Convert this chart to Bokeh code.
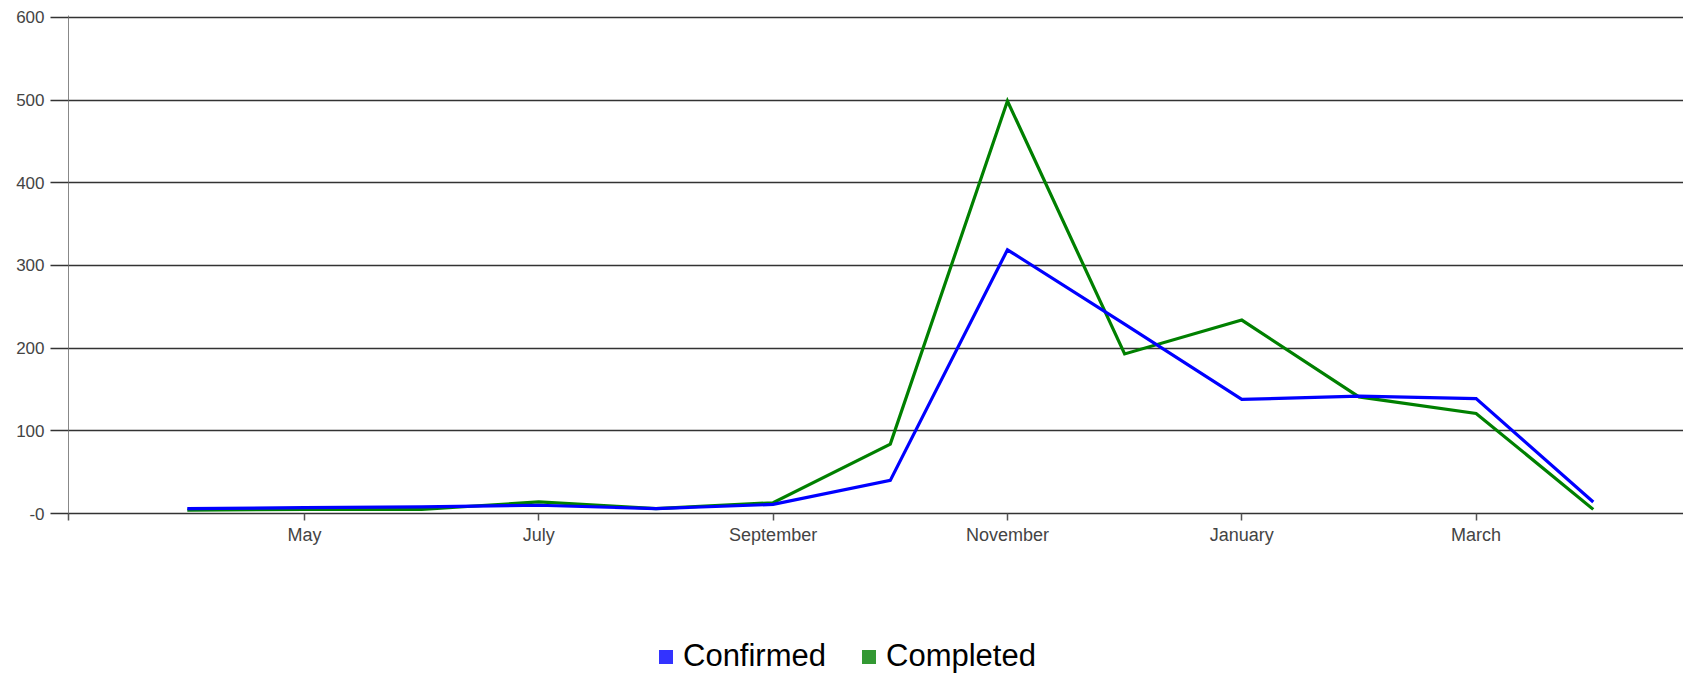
from bokeh.plotting import figure
from bokeh.layouts import column
from bokeh.models import Range1d, FixedTicker, Legend, LegendItem, ColumnDataSource
from bokeh.embed import file_html
from bokeh.resources import INLINE

# ---- data ----
months = ["April", "May", "June", "July", "August", "September", "October",
          "November", "December", "January", "February", "March", "April"]
confirmed = [6, 7, 8, 10, 6, 11, 40, 319, 229, 138, 142, 139, 14]
completed = [4, 5, 5, 14, 6, 13, 84, 499, 193, 234, 141, 121, 5]
x_tick_pos = [1, 3, 5, 7, 9, 11]
x_tick_labels = ["May", "July", "September", "November", "January", "March"]
y_ticks = [0, 100, 200, 300, 400, 500, 600]
y_tick_labels = ["-0", "100", "200", "300", "400", "500", "600"]
series_names = ["Confirmed", "Completed"]

xs = list(range(len(months)))
FONT = "Liberation Sans"
X_START, X_END = -1.014, 12.77

p = figure(width=1683, height=568, output_backend="svg", toolbar_location=None,
           x_range=Range1d(X_START, X_END), y_range=Range1d(0, 602.4),
           min_border_left=68, min_border_right=0, min_border_top=15,
           min_border_bottom=55)
p.outline_line_color = None
p.background_fill_color = "white"
p.border_fill_color = "white"

# grid
p.xgrid.grid_line_color = None
p.ygrid.grid_line_color = "#333333"
p.ygrid.grid_line_width = 1.5
p.ygrid.ticker = FixedTicker(ticks=y_ticks)

# y axis
p.yaxis.ticker = FixedTicker(ticks=y_ticks)
p.yaxis.major_label_overrides = {t: l for t, l in zip(y_ticks, y_tick_labels)}
p.yaxis.axis_line_color = "#888888"
p.yaxis.axis_line_width = 1
p.yaxis.major_tick_out = 18
p.yaxis.major_tick_in = 0
p.yaxis.major_tick_line_color = "#333333"
p.yaxis.major_tick_line_width = 1.5
p.yaxis.minor_tick_line_color = None
p.yaxis.major_label_standoff = 6
p.yaxis.major_label_text_font = FONT
p.yaxis.major_label_text_font_size = "17px"
p.yaxis.major_label_text_color = "#444444"

# x axis (extra unlabeled tick at the left edge continues the y axis line)
p.xaxis.ticker = FixedTicker(ticks=[X_START] + x_tick_pos)
overrides = {t: l for t, l in zip(x_tick_pos, x_tick_labels)}
overrides[X_START] = ""
p.xaxis.major_label_overrides = overrides
p.xaxis.axis_line_color = "#333333"
p.xaxis.axis_line_width = 1.5
p.xaxis.major_tick_out = 7
p.xaxis.major_tick_in = 0
p.xaxis.major_tick_line_color = "#555555"
p.xaxis.major_tick_line_width = 1.5
p.xaxis.minor_tick_line_color = None
p.xaxis.major_label_standoff = 4
p.xaxis.major_label_text_font = FONT
p.xaxis.major_label_text_font_size = "18px"
p.xaxis.major_label_text_color = "#444444"

src = ColumnDataSource(dict(x=xs, confirmed=confirmed, completed=completed))
p.line("x", "completed", source=src, line_color="#008000", line_width=3.2, line_join="miter")
p.line("x", "confirmed", source=src, line_color="#0000ff", line_width=3.2, line_join="miter")

# ---- legend strip ----
q = figure(width=1691, height=106, output_backend="svg", toolbar_location=None,
           x_range=Range1d(0, 1), y_range=Range1d(0, 1),
           x_axis_type=None, y_axis_type=None,
           min_border_left=0, min_border_right=0, min_border_top=0,
           min_border_bottom=0)
q.outline_line_color = None
q.grid.grid_line_color = None
q.background_fill_color = "white"
q.border_fill_color = "white"

# zero-size markers: only their legend swatches are seen
r_conf = q.scatter("x", "confirmed", source=src, marker="square", size=0,
                   fill_color="#3333ff", line_color=None)
r_comp = q.scatter("x", "completed", source=src, marker="square", size=0,
                   fill_color="#339933", line_color=None)

legend = Legend(items=[LegendItem(label=series_names[0], renderers=[r_conf]),
                       LegendItem(label=series_names[1], renderers=[r_comp])],
                orientation="horizontal", location=(580, 0),
                padding=0, margin=0, spacing=25, label_standoff=0,
                glyph_width=35, glyph_height=35, label_height=30,
                border_line_color=None, background_fill_alpha=0,
                label_text_font=FONT, label_text_font_size="31px",
                label_text_color="#000000")
q.add_layout(legend, "center")

layout = column(p, q, spacing=0)
open("out.html", "w").write(file_html(layout, INLINE))
